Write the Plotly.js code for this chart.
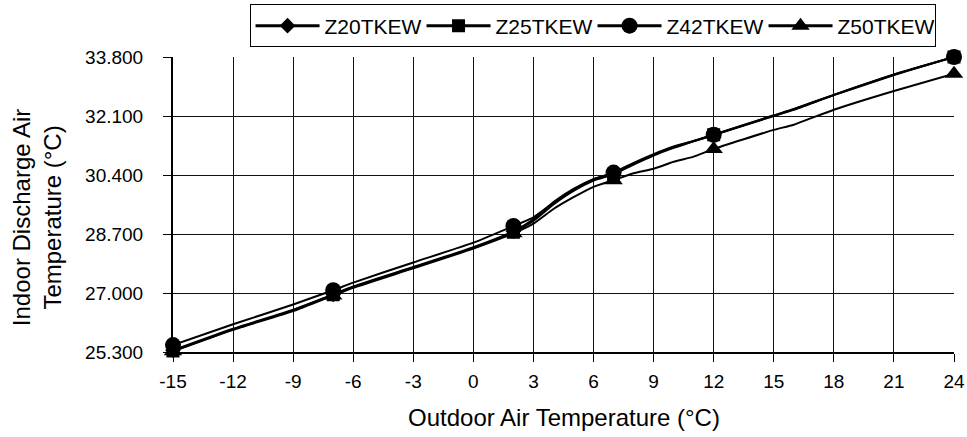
<!DOCTYPE html>
<html>
<head>
<meta charset="utf-8">
<script src="https://cdn.plot.ly/plotly-3.0.1.min.js"></script>
<style>html,body{margin:0;padding:0;background:#fff;}#chart{width:967px;height:437px;}</style>
</head>
<body>
<div id="chart"></div>
<script>
// Outdoor air temperature (°C) sampled along the curves
var outdoorTemp = [-15,-12,-9,-7,-6,-3,0,2,3,4,5,6,7,8,9,10,11,12,15,16,18,21,24];
// Indoor discharge air temperature (°C)
var z20tkew = [25.35,25.97,26.52,26.96,27.19,27.75,28.32,28.78,29.12,29.62,30.00,30.28,30.45,30.72,30.98,31.20,31.38,31.55,32.10,32.28,32.70,33.28,33.80];
var z25tkew = [25.33,25.95,26.50,26.95,27.17,27.73,28.30,28.75,29.08,29.55,29.94,30.24,30.42,30.70,30.96,31.18,31.37,31.56,32.11,32.29,32.71,33.29,33.80];
var z42tkew = [25.50,26.10,26.67,27.08,27.30,27.88,28.45,28.93,29.18,29.60,29.98,30.28,30.47,30.75,31.00,31.22,31.38,31.56,32.12,32.30,32.71,33.30,33.80];
var z50tkew = [25.32,25.94,26.48,26.93,27.15,27.71,28.28,28.72,29.00,29.42,29.76,30.06,30.25,30.45,30.58,30.78,30.93,31.15,31.70,31.85,32.28,32.82,33.32];
// Points where markers are shown
var markerTemps = [-15,-7,2,7,12,24];
var seriesNames = ['Z20TKEW','Z25TKEW','Z42TKEW','Z50TKEW'];
var seriesData = [z20tkew, z25tkew, z42tkew, z50tkew];
var seriesSymbols = ['diamond','square','circle','triangle-up'];
var seriesSizes = [12,13,16,16];
var xTicks = [-15,-12,-9,-6,-3,0,3,6,9,12,15,18,21,24];
var xTickLabels = ['-15','-12','-9','-6','-3','0','3','6','9','12','15','18','21','24'];
var yTicks = [25.3,27.0,28.7,30.4,32.1,33.8];
var yTickLabels = ['25.300','27.000','28.700','30.400','32.100','33.800'];

var FONT = 'Liberation Sans, Arial, sans-serif';
var traces = [];
seriesData.forEach(function(ys, i){
  traces.push({x: outdoorTemp, y: ys, mode: 'lines', type: 'scatter',
    line: {color: '#000', width: 2, shape: 'spline', smoothing: 0.5},
    showlegend: false, hoverinfo: 'skip', cliponaxis: false});
});
seriesData.forEach(function(ys, i){
  var my = markerTemps.map(function(t){ return ys[outdoorTemp.indexOf(t)]; });
  traces.push({x: markerTemps, y: my, mode: 'markers', type: 'scatter',
    marker: {color: '#000', symbol: seriesSymbols[i], size: seriesSizes[i]},
    showlegend: false, cliponaxis: false});
});
seriesData.forEach(function(ys, i){
  traces.push({x: [null], y: [null], mode: 'lines+markers', type: 'scatter', name: seriesNames[i],
    line: {color: '#000', width: 3},
    marker: {color: '#000', symbol: seriesSymbols[i], size: seriesSizes[i]}});
});

var layout = {
  width: 967, height: 437,
  margin: {l: 173, r: 13, t: 57, b: 85, pad: 0, autoexpand: false},
  paper_bgcolor: '#fff', plot_bgcolor: '#fff',
  font: {family: FONT, size: 19, color: '#000'},
  showlegend: true,
  legend: {orientation: 'h', x: 0.098, xanchor: 'left', y: 1.178, yanchor: 'top',
    bordercolor: '#000', borderwidth: 1, font: {family: FONT, size: 21, color: '#000'},
    entrywidth: 92, entrywidthmode: 'pixels', itemwidth: 64, tracegroupgap: 0},
  xaxis: {range: [-15, 24], tickmode: 'array', tickvals: xTicks, ticktext: xTickLabels,
    showgrid: true, gridcolor: '#111', gridwidth: 1, zeroline: false,
    showline: true, linecolor: '#000', linewidth: 2, automargin: false,
    ticks: 'outside', ticklen: 8, tickcolor: '#000', tickwidth: 1,
    ticklabelstandoff: 3, tickfont: {family: FONT, size: 19, color: '#000'}},
  yaxis: {range: [25.3, 33.8], tickmode: 'array', tickvals: yTicks, ticktext: yTickLabels,
    showgrid: true, gridcolor: '#111', gridwidth: 1, zeroline: false,
    showline: true, linecolor: '#000', linewidth: 2, automargin: false,
    ticks: 'outside', ticklen: 8, tickcolor: '#000', tickwidth: 1,
    ticklabelstandoff: 16, tickfont: {family: FONT, size: 19, color: '#000'}},
  annotations: [
    {text: 'Indoor Discharge Air<br>Temperature (°C)', textangle: -90, xref: 'paper', yref: 'paper',
      x: -0.174, y: 0.454, xanchor: 'center', yanchor: 'middle', showarrow: false,
      font: {family: FONT, size: 24, color: '#000'}},
    {text: 'Outdoor Air Temperature (°C)', xref: 'paper', yref: 'paper',
      x: 0.5, y: -0.222, xanchor: 'center', yanchor: 'middle', showarrow: false,
      font: {family: FONT, size: 24, color: '#000'}}
  ]
};
Plotly.newPlot('chart', traces, layout, {staticPlot: true, displayModeBar: false});
</script>
</body>
</html>
